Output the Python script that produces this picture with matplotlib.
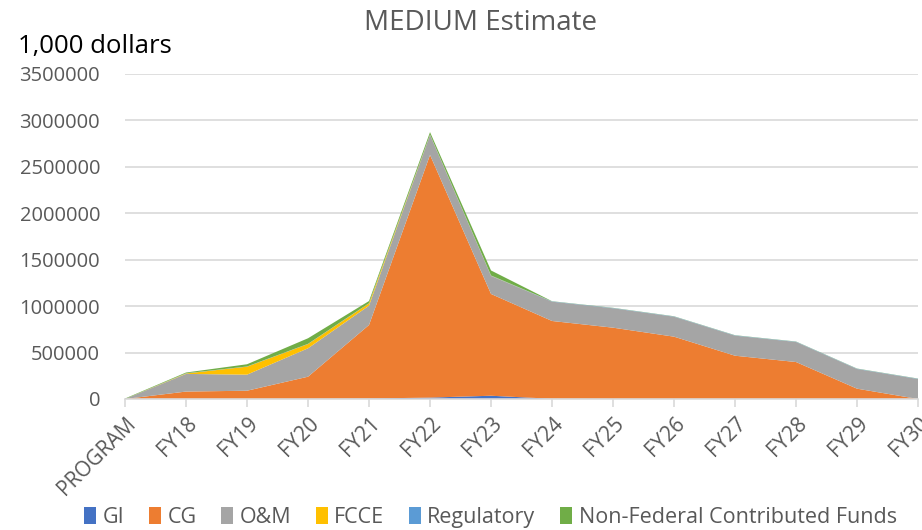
import matplotlib
matplotlib.use("Agg")
import matplotlib.pyplot as plt
from matplotlib.patches import Patch
import numpy as np

plt.rcParams['font.family'] = ['Open Sans', 'DejaVu Sans']

categories = ["PROGRAM", "FY18", "FY19", "FY20", "FY21", "FY22", "FY23", "FY24",
              "FY25", "FY26", "FY27", "FY28", "FY29", "FY30"]
gi = [0, 0, 0, 0, 5000, 15000, 35000, 2000, 0, 0, 0, 0, 0, 0]
cg = [0, 80000, 89000, 240000, 792000, 2613000, 1096000, 838000, 768000, 671000, 466000, 398000, 111000, 0]
om = [0, 190000, 173000, 306000, 208000, 215000, 194000, 208000, 209000, 215000, 216000, 216000, 212000, 215000]
fcce = [0, 5000, 86000, 46000, 25000, 2000, 2000, 0, 0, 0, 0, 0, 0, 0]
regulatory = [0, 2000, 2000, 2000, 2000, 3000, 3000, 3000, 3000, 3000, 3000, 3000, 3000, 3000]
nonfed = [5000, 8000, 24000, 60000, 23000, 26000, 54000, 2000, 2000, 2000, 2000, 2000, 2000, 2000]

series_names = ["GI", "CG", "O&M", "FCCE", "Regulatory", "Non-Federal Contributed Funds"]
colors = ["#4472C4", "#ED7D31", "#A5A5A5", "#FFC000", "#5B9BD5", "#70AD47"]
y_ticks = [0, 500000, 1000000, 1500000, 2000000, 2500000, 3000000, 3500000]

fig = plt.figure(figsize=(9.22, 5.30), dpi=100)
ax = fig.add_axes([0.1356, 0.2472, 0.8601, 0.6132])

x = np.arange(len(categories))
ax.stackplot(x, gi, cg, om, fcce, regulatory, nonfed, colors=colors, linewidth=0)

ax.set_xlim(0, len(categories) - 1)
ax.set_ylim(0, 3500000)
ax.set_yticks(y_ticks)
ax.set_yticklabels([str(v) for v in y_ticks])
ax.set_xticks(x)
ax.set_xticklabels(categories, rotation=45, ha='right', rotation_mode='anchor')

ax.grid(axis='y', color='#D9D9D9', linewidth=1.2)
ax.set_axisbelow(True)
for s in ['top', 'right', 'left']:
    ax.spines[s].set_visible(False)
ax.spines['bottom'].set_color('#D9D9D9')
ax.spines['bottom'].set_linewidth(1.2)
ax.tick_params(axis='y', length=0, pad=18, labelsize=14.5, labelcolor='#595959')
ax.tick_params(axis='x', length=6, width=1.2, color='#D9D9D9', labelsize=15,
               labelcolor='#595959', pad=4)

fig.text(0.521, 0.956, "MEDIUM Estimate", ha='center', va='center', fontsize=20, color='#595959')
fig.text(0.02, 0.912, "1,000 dollars", ha='left', va='center', fontsize=18.5, color='black')

handles = [Patch(facecolor=c, edgecolor='none') for c in colors]
fig.legend(handles, series_names, loc='center', bbox_to_anchor=(0.532, 0.024), ncol=6,
           frameon=False, fontsize=15.5, handlelength=0.55, handleheight=0.8,
           handletextpad=0.3, columnspacing=1.15, labelcolor='#595959')

fig.savefig("out.png", dpi=100)
